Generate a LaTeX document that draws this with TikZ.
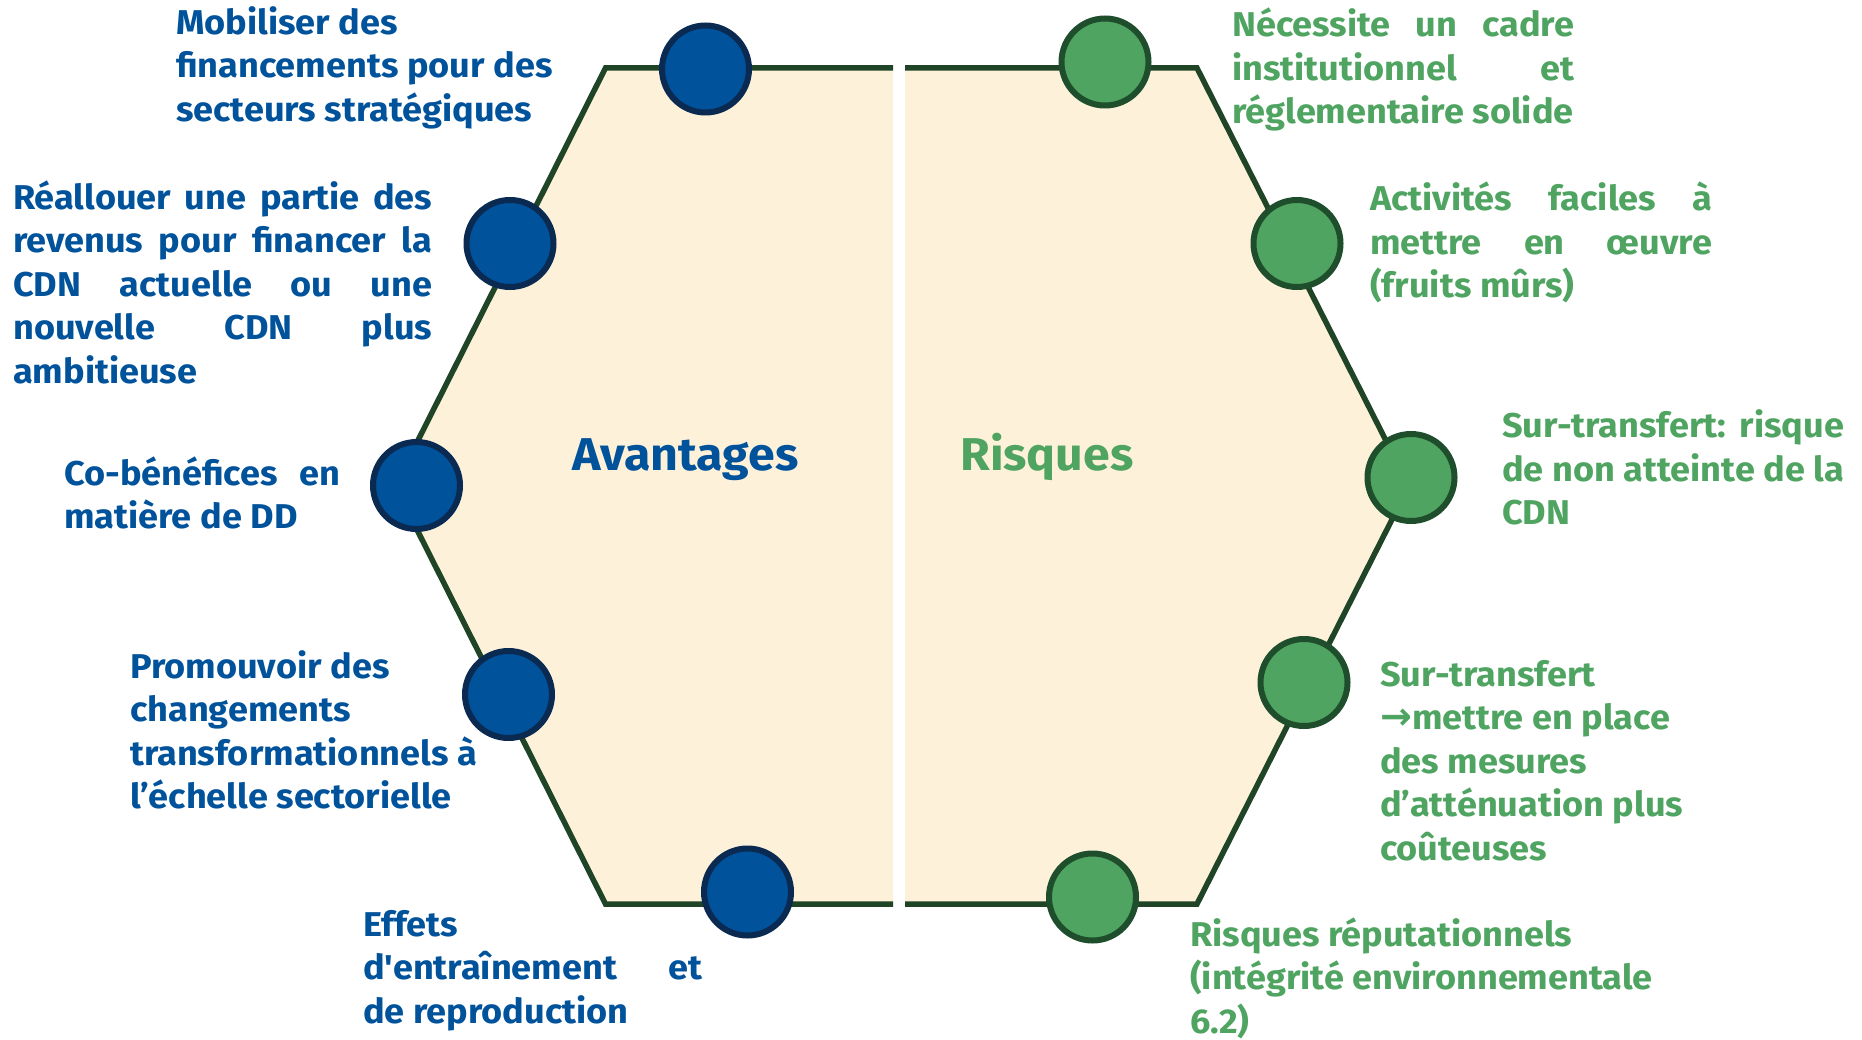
\documentclass[tikz,border=0pt]{standalone}
\usepackage{fontspec}
\newfontfamily\bodyf{Fira Sans}[FakeStretch=1.05]
\newfontfamily\arrowf{DejaVu Sans}
\definecolor{hexline}{HTML}{1F4426}
\definecolor{cream}{HTML}{FDF1DA}
\definecolor{bluefill}{HTML}{00529B}
\definecolor{blueedge}{HTML}{0B2A52}
\definecolor{greenfill}{HTML}{4EA460}
\definecolor{greenedge}{HTML}{1F4E2C}
\newcommand{\jl}[2]{\hbox to #1pt{#2}}
\newcommand{\gp}{\hfill}
\tikzset{
  x=1pt,y=-1pt,
  half/.style={fill=cream,draw=none},
  edge/.style={draw=hexline,line width=5.5pt,line join=miter},
  dotb/.style={circle,draw=blueedge,fill=bluefill,line width=6pt,minimum size=87pt,inner sep=0pt},
  dotg/.style={circle,draw=greenedge,fill=greenfill,line width=6pt,minimum size=87pt,inner sep=0pt},
  txt/.style={anchor=north west,inner sep=0pt,align=left,font=\fontsize{34.4}{43.5}\selectfont\bodyf\bfseries},
  txtb/.style={txt,text=bluefill},
  txtg/.style={txt,text=greenfill},
  titre/.style={anchor=base west,inner sep=0pt,font=\fontsize{46}{50}\selectfont\bodyf\bfseries}
}
\begin{document}
\begin{tikzpicture}
\useasboundingbox (0,0) rectangle (1862,1040);
\fill[half] (893,68) -- (605.5,68) -- (395,486) -- (605.5,904) -- (893,904) -- cycle;
\fill[half] (905,68) -- (1197,68) -- (1409,486) -- (1197,904) -- (905,904) -- cycle;
\draw[edge] (893,68) -- (605.5,68) -- (395,486) -- (605.5,904) -- (893,904);
\draw[edge] (905,68) -- (1197,68) -- (1409,486) -- (1197,904) -- (905,904);
\node[dotb] (b1) at (705.5,69) {};
\node[dotb] (b2) at (510,243.5) {};
\node[dotb] (b3) at (416.5,485.5) {};
\node[dotb] (b4) at (508.5,694.5) {};
\node[dotb] (b5) at (747.5,892) {};
\node[dotg] (g1) at (1105,62) {};
\node[dotg] (g2) at (1297,243.5) {};
\node[dotg] (g3) at (1411,477.5) {};
\node[dotg] (g4) at (1304,682.5) {};
\node[dotg] (g5) at (1092.5,897) {};
\node[titre,text=bluefill] (ta) at (572,470) {Avantages};
\node[titre,text=greenfill] (tr) at (960,470) {Risques};
\node[txtb] (t1) at (176,3.5) {\strut Mobiliser des\\financements pour des\\secteurs stratégiques};
\node[txtb] (t2) at (13,178.5) {\strut\jl{419}{Réallouer\gp une\gp partie\gp des}\\\jl{419}{revenus\gp pour\gp financer\gp la}\\\jl{419}{CDN\gp actuelle\gp ou\gp une}\\\jl{419}{nouvelle\gp CDN\gp plus}\\ambitieuse};
\node[txtb] (t3) at (64,454.5) {\strut\jl{276}{Co-bénéfices\gp en}\\matière de DD};
\node[txtb] (t4) at (130,647.5) {\strut Promouvoir des\\changements\\transformationnels à\\l’échelle sectorielle};
\node[txtb] (t5) at (363,905.5) {\strut\jl{339}{Effets}\\\jl{339}{d'entraînement\gp et}\\de reproduction};
\node[txtg] (r1) at (1232,6) {\strut\jl{342}{Nécessite\gp un\gp cadre}\\\jl{342}{institutionnel\gp et}\\réglementaire solide};
\node[txtg] (r2) at (1370,180) {\strut\jl{342}{Activités\gp faciles\gp à}\\\jl{342}{mettre\gp en\gp œuvre}\\(fruits mûrs)};
\node[txtg] (r3) at (1502,407) {\strut\jl{342}{Sur-transfert:\gp risque}\\\jl{342}{de\gp non\gp atteinte\gp de\gp la}\\CDN};
\node[txtg] (r4) at (1380,655.5) {\strut Sur-transfert\\{\arrowf\fontsize{38}{43.5}\selectfont →}mettre en place\\des mesures\\d’atténuation plus\\coûteuses};
\node[txtg] (r5) at (1190,915.5) {\strut Risques réputationnels\\(intégrité environnementale\\6.2)};
\end{tikzpicture}
\end{document}
